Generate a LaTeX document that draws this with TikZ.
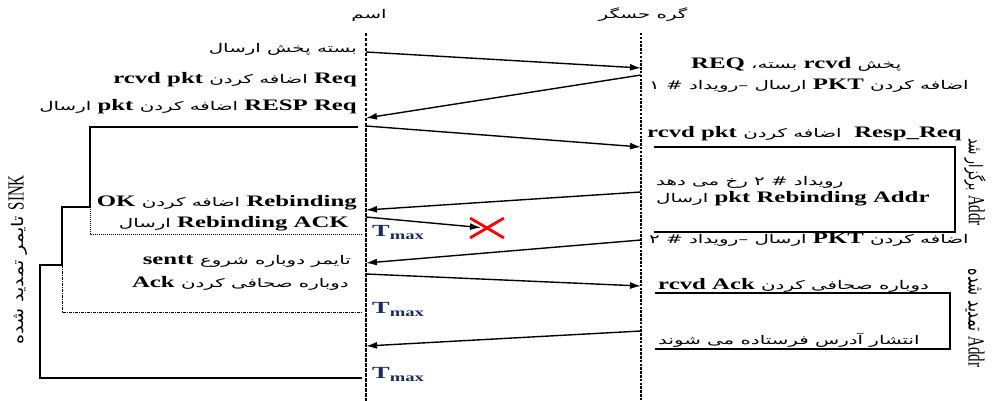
\documentclass[tikz,border=0pt]{standalone}
\usepackage{fontspec}
\setmainfont{Liberation Serif}
\newfontfamily\pfont[Script=Arabic,FakeStretch=1.65]{DejaVu Sans}
\newfontfamily\lfont[FakeStretch=1.55]{Liberation Serif}
\newfontfamily\pfontv[Script=Arabic,FakeStretch=0.65]{DejaVu Sans}
\newfontfamily\pfontw[Script=Arabic,FakeStretch=1.2]{DejaVu Sans}
\newfontfamily\lfontv[FakeStretch=0.65]{Liberation Serif}
\TeXXeTstate=1
\usetikzlibrary{arrows.meta, shapes.misc}
\definecolor{tmaxblue}{RGB}{28,45,90}

\newcommand{\fa}[1]{{\fontsize{12}{14}\pfont\beginR #1\endR}}
\newcommand{\en}[1]{\beginL{\fontsize{16}{18}\lfont\bfseries #1}\endL}
\newcommand{\fav}[2][19]{{\fontsize{#1}{21}\pfontv\beginR #2\endR}}
\newcommand{\env}[1]{\beginL{\fontsize{23}{25}\lfontv #1}\endL}
\newcommand{\tmax}{{\fontsize{17}{17}\lfont\bfseries T\raisebox{-3pt}{\fontsize{12}{12}\lfont\bfseries max}}}

\begin{document}
\begin{tikzpicture}[x=1pt, y=-1pt,
  sinkline/.style={line width=2.4pt, dash pattern=on 3.5pt off 1.5pt},
  sensline/.style={line width=2.4pt, dash pattern=on 2.5pt off 1.3pt},
  msg/.style={-{Latex[length=11pt,width=7pt]}, line width=1.4pt},
  lbl/.style={inner sep=1pt},
  timer/.style={line width=1.2pt},
  tmaxlbl/.style={inner sep=0pt, anchor=west, text=tmaxblue},
  bracket/.style={line width=1.2pt}
]
  \useasboundingbox (0,0) rectangle (995,401);

  % lifelines
  \node (sinkname) at (369,15) {\fa{اسم}};
  \node (sensname) at (643,15) {\fa{گره حسگر}};
  \coordinate (sinktop) at (366,33);
  \coordinate (sinkbot) at (366,401);
  \coordinate (senstop) at (641,33);
  \coordinate (sensbot) at (641,401);
  \draw[sinkline] (sinktop) -- (sinkbot);
  \draw[sensline] (senstop) -- (sensbot);

  % message ends
  \foreach \n/\y in {a/52, b/118, c/126, d/210, e/217, f/263, g/274, h/346}
    \coordinate (s\n) at (366,\y);
  \foreach \n/\y in {a/68, b/75, c/147, d/192, f/240, g/286, h/331}
    \coordinate (r\n) at (641,\y);

  \draw[msg] (sa) -- (ra);
  \draw[msg] (rb) -- (sb);
  \draw[msg] (sc) -- (rc);
  \draw[msg] (rd) -- (sd);
  \node[cross out, draw=red, line width=2.8pt, minimum width=31pt,
    minimum height=17pt, inner sep=0pt] (lost) at (487,228) {};
  \draw[msg] (se) -- (481,227.6);
  \draw[msg] (rf) -- (sf);
  \draw[msg] (sg) -- (rg);
  \draw[msg] (rh) -- (sh);

  % labels on the sink side
  \node[lbl, anchor=east] (lbcast) at (358,49) {\fa{بسته پخش ارسال}};
  \node[lbl, anchor=east] (lreq) at (358,80) {\fa{\en{Req} اضافه کردن \en{rcvd pkt}}};
  \node[lbl, anchor=east] (lresp) at (358,107) {\fa{\en{RESP Req} اضافه کردن \en{pkt} ارسال}};
  \node[lbl, anchor=east] (lok) at (358,203) {\fa{\en{Rebinding} اضافه کردن \en{OK}}};
  \node[lbl, anchor=east] (lack) at (350,224) {\fa{\en{Rebinding ACK} ارسال}};
  \node[lbl, anchor=east] (lsent) at (352,261) {\fa{تایمر دوباره شروع \en{sentt}}};
  \node[lbl, anchor=east] (lrebind) at (350,283) {\fa{دوباره صحافی کردن \en{Ack}}};

  % labels on the sensor side
  \node[lbl, anchor=west] (rbcast) at (690,64) {\fa{پخش \en{rcvd} بسته، \en{REQ}}};
  \node[lbl, anchor=west] (rev1) at (648,86) {\fa{اضافه کردن \en{PKT} ارسال –رویداد \# ۱}};
  \node[lbl, anchor=west] (rresp) at (646,134) {\fa{\en{Resp\_Req}\ \ اضافه کردن \en{rcvd pkt}}};
  \node[lbl, anchor=west] (rev2) at (655,182) {\fa{رویداد \# ۲ رخ می دهد}};
  \node[lbl, anchor=west] (rrebind) at (655,199) {\fa{\en{pkt Rebinding Addr} ارسال}};
  \node[lbl, anchor=west] (rev2b) at (648,240) {\fa{اضافه کردن \en{PKT} ارسال –رویداد \# ۲}};
  \node[lbl, anchor=west] (rrcvd) at (657,285) {\fa{دوباره صحافی کردن \en{rcvd Ack}}};
  \node[lbl, anchor=west] (rpub) at (657,340) {\fa{انتشار آدرس فرستاده می شوند}};

  % sink timers
  \draw[timer] (358,127) -- (90,127) -- (90,207) -- (62,207) -- (62,265)
    -- (40,265) -- (40,378) -- (362,378);
  \draw[timer, line width=1pt, densely dotted] (90,207) -- (90,234) -- (362,234);
  \draw[timer, line width=1pt, densely dash dot] (62,265) -- (62,312) -- (362,312);
  \node[tmaxlbl] (tmaxa) at (372,232) {\tmax};
  \node[tmaxlbl] (tmaxb) at (372,309) {\tmax};
  \node[tmaxlbl] (tmaxc) at (372,374) {\tmax};

  % sensor brackets
  \draw[bracket] (654,147) -- (955,147) -- (955,232) -- (654,232);
  \draw[bracket] (655,293) -- (950,293) -- (950,349) -- (655,349);

  % side notes
  \node[rotate=90] (sinktimer) at (18,260)
    {{\fontsize{16}{18}\pfontw\beginR \env{SINK} تایمر تمدید شده\endR}};
  \node[rotate=-90] (addrbound) at (975,182) {\fav{\env{Addr} برگزار شد}};
  \node[rotate=-90] (addrext) at (975,318) {\fav[22]{\env{Addr} تمدید شده}};
\end{tikzpicture}
\end{document}
